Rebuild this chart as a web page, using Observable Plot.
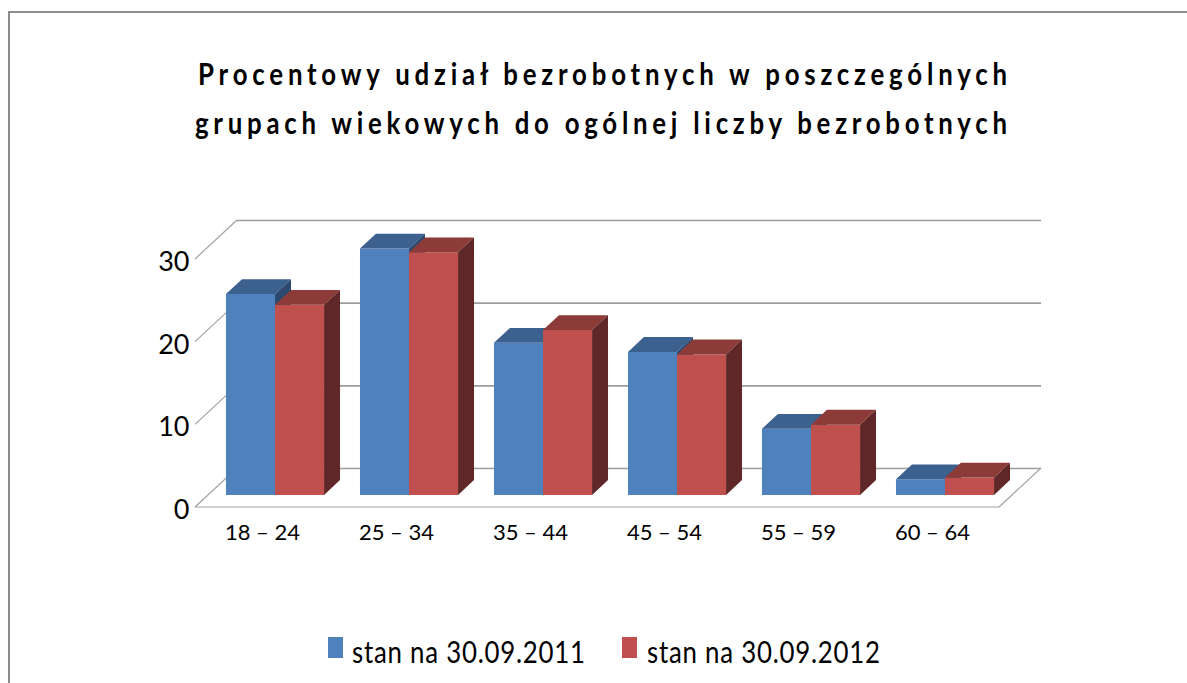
<!DOCTYPE html>
<html><head><meta charset="utf-8">
<script src="https://cdn.jsdelivr.net/npm/d3@7"></script>
<script src="https://cdn.jsdelivr.net/npm/@observablehq/plot@0.6"></script>
<style>
html,body{margin:0;padding:0;width:1187px;height:683px;overflow:hidden;background:#fff;font-family:Lato,"Open Sans",sans-serif;}
#frame{position:absolute;left:8px;top:11px;width:1200px;height:700px;border:2px solid #8c8c8c;box-sizing:border-box;}
.fit{position:absolute;white-space:nowrap;transform-origin:0 0;color:#000;}
#chart{position:absolute;left:0;top:170px;}
.sw{position:absolute;width:15px;height:21px;}
</style></head><body>
<div id="frame"></div>
<div id="t1" class="fit"></div>
<div id="t2" class="fit"></div>
<div id="chart"></div>
<div id="sw1" class="sw"></div><div id="l1" class="fit"></div>
<div id="sw2" class="sw"></div><div id="l2" class="fit"></div>
<script>
const categories = ["18 – 24", "25 – 34", "35 – 44", "45 – 54", "55 – 59", "60 – 64"];
const series = ["stan na 30.09.2011", "stan na 30.09.2012"];
const values2011 = [24.3, 29.8, 18.4, 17.3, 8.0, 1.9];
const values2012 = [23.0, 29.35, 19.95, 17.0, 8.5, 2.1];
const yTicks = [0, 10, 20, 30];
const titleLines = ["Procentowy udział bezrobotnych w poszczególnych", "grupach wiekowych do ogólnej liczby bezrobotnych"];

const colors = [
  {front: "#4F81BD", top: "#3C618F", side: "#2C4A70"},
  {front: "#C0504D", top: "#8D3B39", side: "#5F2727"}
];

// table built from the arrays
const rows = [];
categories.forEach((c, i) => {
  rows.push({cat: c, i, s: 0, value: values2011[i]});
  rows.push({cat: c, i, s: 1, value: values2012[i]});
});

const DX = 42, DY = 39;     // depth of the 3D box (pixels)
const T0 = 0.31, T1 = 0.69; // bar depth fraction
const GAP = 0.134, BW = 0.366; // within a band

function box3d(index, scales) {
  const x = scales.x, y = scales.y;
  const g = d3.create("svg:g");
  const x0 = x(0), x6 = x(categories.length), yz = y(0);
  const lines = [];
  lines.push([[x0, yz], [x6, yz]]);
  lines.push([[x6, yz], [x6 + DX, yz - DY]]);
  for (const v of yTicks) lines.push([[x0, y(v)], [x0 + DX, y(v) - DY]]);
  g.selectAll("path.edge").data(lines).join("path")
    .attr("d", d => d3.line()(d))
    .attr("stroke", "#a3a3a3").attr("stroke-width", 1.2).attr("fill", "none");
  const ox = T0 * DX, oy = T0 * DY, dx = (T1 - T0) * DX, dy = (T1 - T0) * DY;
  for (const r of rows) {
    const c = colors[r.s];
    const L = x(r.i + GAP + r.s * BW) + ox;
    const R = x(r.i + GAP + (r.s + 1) * BW) + ox;
    const B = y(0) - oy;
    const T = y(r.value) - oy;
    g.append("path").attr("d", `M${L},${B}L${L},${T}L${R},${T}L${R},${B}Z`).attr("fill", c.front);
    g.append("path").attr("d", `M${L},${T}L${L + dx},${T - dy}L${R + dx},${T - dy}L${R},${T}Z`).attr("fill", c.top);
    g.append("path").attr("d", `M${R},${B}L${R},${T}L${R + dx},${T - dy}L${R + dx},${B - dy}Z`).attr("fill", c.side);
  }
  return g.node();
}

const plot = Plot.plot({
  width: 1187,
  height: 400,
  style: {fontFamily: "Lato, 'Open Sans', sans-serif", background: "transparent", overflow: "visible", color: "#000"},
  x: {domain: [0, categories.length], range: [195, 999], axis: null},
  y: {domain: [0, 30], range: [337, 89], axis: null},
  marks: [
    Plot.ruleY(yTicks, {y: d => d, x1: 0, x2: categories.length, dx: DX, dy: -DY, stroke: "#9d9d9d", strokeWidth: 1.6, strokeOpacity: 1}),
    box3d,
    Plot.text(yTicks, {x: 0, y: d => d, text: d => String(d), textAnchor: "end", dx: -6, dy: 3, fontSize: 27, fill: "#000"}),
    Plot.text(categories, {x: (d, i) => i + 0.5, y: 0, text: d => d, dy: 25, fontSize: 22, fill: "#000"})
  ]
});
document.getElementById("chart").appendChild(plot);

function fit(id, text, left, baseline, width, size, weight, k) {
  const el = document.getElementById(id);
  el.textContent = text;
  el.style.fontSize = size + "px";
  el.style.fontWeight = weight;
  el.style.lineHeight = size + "px";
  el.style.letterSpacing = "0px";
  const w0 = el.getBoundingClientRect().width;
  const n = [...text].length;
  const ls = Math.max(0, (width / k - w0) / (n - 1));
  el.style.letterSpacing = ls + "px";
  el.style.left = left + "px";
  el.style.top = (baseline - 0.87 * size) + "px";
  el.style.transform = `scaleX(${k})`;
}
fit("t1", titleLines[0], 198, 84, 809, 30, 700, 0.86);
fit("t2", titleLines[1], 195, 133, 812, 30, 700, 0.86);
fit("l1", series[0], 352, 662, 233, 30, 400, 0.86);
fit("l2", series[1], 647, 662, 233, 30, 400, 0.86);
const sw1 = document.getElementById("sw1"), sw2 = document.getElementById("sw2");
sw1.style.left = "328px"; sw1.style.top = "637px"; sw1.style.background = colors[0].front;
sw2.style.left = "622px"; sw2.style.top = "637px"; sw2.style.background = colors[1].front;
</script>
</body></html>
